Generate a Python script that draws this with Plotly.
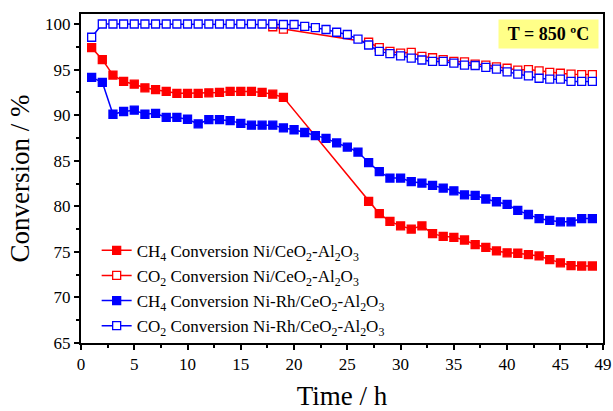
import plotly.graph_objects as go

# ---- data ----
t_ch4_ni = list(range(1, 20)) + list(range(27, 49))
v_ch4_ni = [97.4, 96.1, 94.4, 93.7, 93.4, 93.0, 92.8, 92.6, 92.4, 92.4, 92.4, 92.45, 92.5, 92.6, 92.6, 92.6, 92.5, 92.3, 91.95,
            80.55, 79.2, 78.35, 77.85, 77.5, 77.85, 77.0, 76.7, 76.6, 76.3, 75.8, 75.5, 75.1, 74.9, 74.85, 74.7, 74.55,
            74.15, 73.8, 73.5, 73.45, 73.45]

t_co2_ni = [18, 19] + list(range(27, 49))
v_co2_ni = [99.7, 99.45, 98.0, 97.4, 97.0, 96.8, 96.9, 96.45, 96.3, 96.1, 95.9, 95.85, 95.6, 95.5, 95.3, 95.15,
            94.95, 95.0, 94.85, 94.7, 94.6, 94.5, 94.45, 94.45]

t_rh = list(range(1, 49))
v_ch4_rh = [94.15, 93.6, 90.1, 90.4, 90.55, 90.1, 90.2, 89.75, 89.75, 89.55, 89.05, 89.5, 89.5, 89.4, 89.1, 88.9,
            88.9, 88.9, 88.6, 88.4, 88.1, 87.75, 87.45, 86.95, 86.5, 85.95, 84.8, 83.8, 83.1, 83.1, 82.7, 82.55,
            82.3, 82.0, 81.7, 81.25, 81.2, 80.8, 80.5, 80.2, 79.55, 79.1, 78.65, 78.45, 78.3, 78.3, 78.65, 78.65]
v_co2_rh = [98.55, 100, 100, 100, 100, 100, 100, 100, 100, 100, 100, 100, 100, 100, 100, 100, 100, 100, 99.95,
            99.95, 99.75, 99.6, 99.4, 99.1, 98.85, 98.35, 97.7, 97.0, 96.75, 96.5, 96.25, 96.05, 95.9, 95.9, 95.7,
            95.5, 95.45, 95.25, 95.05, 94.75, 94.5, 94.3, 94.05, 93.95, 93.95, 93.7, 93.7, 93.7]

x_ticks = [0, 5, 10, 15, 20, 25, 30, 35, 40, 45, 49]
y_ticks = [65, 70, 75, 80, 85, 90, 95, 100]

names = [
    "CH<sub>4</sub> Conversion Ni/CeO<sub>2</sub>-Al<sub>2</sub>O<sub>3</sub>",
    "CO<sub>2</sub> Conversion Ni/CeO<sub>2</sub>-Al<sub>2</sub>O<sub>3</sub>",
    "CH<sub>4</sub> Conversion Ni-Rh/CeO<sub>2</sub>-Al<sub>2</sub>O<sub>3</sub>",
    "CO<sub>2</sub> Conversion Ni-Rh/CeO<sub>2</sub>-Al<sub>2</sub>O<sub>3</sub>",
]

RED = "#ff0000"
BLUE = "#0000ff"
FONT = "Liberation Serif, Times New Roman, serif"

fig = go.Figure()
series = [
    (t_ch4_ni, v_ch4_ni, RED, True),
    (t_co2_ni, v_co2_ni, RED, False),
    (t_rh, v_ch4_rh, BLUE, True),
    (t_rh, v_co2_rh, BLUE, False),
]
for (t, v, c, filled), nm in zip(series, names):
    fig.add_trace(go.Scatter(
        x=t, y=v, name=nm, mode="lines+markers",
        line=dict(color=c, width=1.5),
        marker=dict(symbol="square", size=8,
                    color=c if filled else "white",
                    line=dict(color=c, width=1.3)),
    ))

axis_common = dict(
    showline=True, linecolor="black", linewidth=2, mirror=True,
    ticks="outside", ticklen=5, tickwidth=2, tickcolor="black",
    showgrid=False, zeroline=False,
    tickfont=dict(family=FONT, size=17, color="black"),
)

fig.update_xaxes(
    range=[0, 49], tickvals=x_ticks,
    minor=dict(tickvals=[2.5, 7.5, 12.5, 17.5, 22.5, 27.5, 32.5, 37.5, 42.5, 47.5],
               ticks="outside", ticklen=3, tickwidth=2, tickcolor="black"),
    title=dict(text="Time / h", font=dict(family=FONT, size=27, color="black"), standoff=16),
    **axis_common,
)
fig.update_yaxes(
    range=[65, 101.1], tickvals=y_ticks,
    minor=dict(dtick=2.5, tick0=65, ticks="outside", ticklen=3, tickwidth=2, tickcolor="black"),
    title=dict(text="Conversion / %", font=dict(family=FONT, size=27, color="black"), standoff=8),
    **axis_common,
)

fig.add_annotation(
    xref="paper", yref="paper", x=0.896, y=0.939, xanchor="center", yanchor="middle",
    text="<b>T = 850 ºC</b>", showarrow=False,
    font=dict(family=FONT, size=18, color="black"),
    bgcolor="#ffff88", width=95, height=24, borderpad=2,
)

fig.update_layout(
    width=613, height=411,
    margin=dict(l=81, r=10, t=14, b=68, autoexpand=False),
    paper_bgcolor="white", plot_bgcolor="white",
    showlegend=True,
    legend=dict(x=0.03, y=0.335, xanchor="left", yanchor="top",
                bgcolor="rgba(0,0,0,0)", font=dict(family=FONT, size=17, color="black"),
                tracegroupgap=0),
    font=dict(family=FONT, color="black"),
)

fig.write_html("out.html")
